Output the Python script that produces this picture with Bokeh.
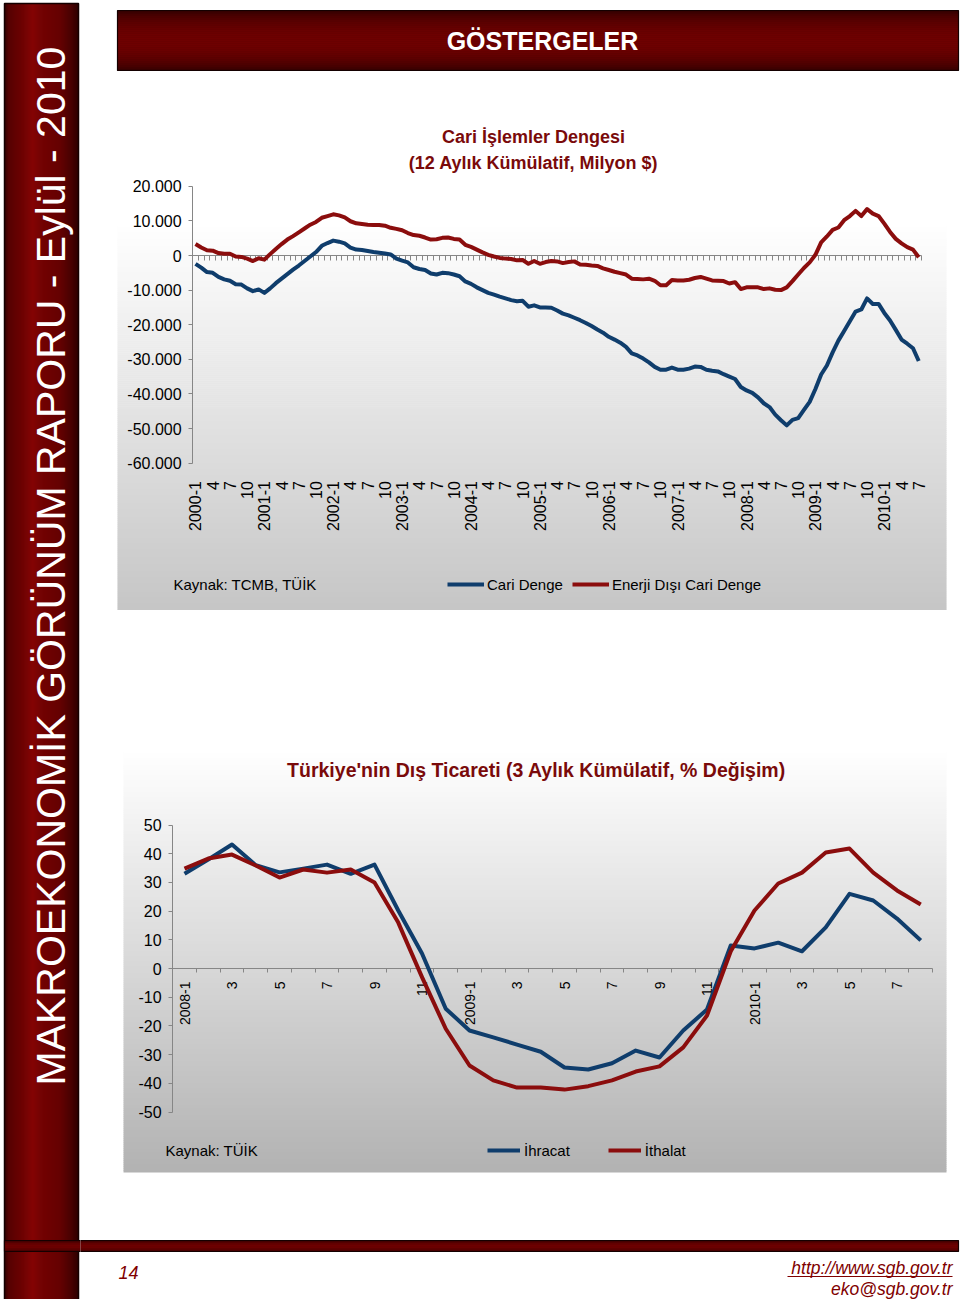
import numpy as np
from math import pi
from bokeh.plotting import figure
from bokeh.layouts import row, column
from bokeh.models import Range1d, LinearAxis, FixedTicker, Legend, LegendItem, ColumnDataSource
from bokeh.core.properties import value
from bokeh.embed import file_html
from bokeh.resources import INLINE

# ---------------------------------------------------------------- data
YEARS_1 = [2000, 2001, 2002, 2003, 2004, 2005, 2006, 2007, 2008, 2009, 2010]
X1_CATEGORIES = [f"{y}-{m}" for y in YEARS_1 for m in range(1, 13) if not (y == 2010 and m > 7)]
X1_TICK_LABELS = [c if c.endswith("-1") else c.split("-")[1] for c in X1_CATEGORIES[::3]]

# 12-month cumulative current account balance, million $
CARI_DENGE = [
    -2400, -3500, -4800, -5000, -6200, -6900, -7300, -8300, -8400, -9500, -10300, -9800,
    -10800, -9500, -8000, -6700, -5400, -4100, -2900, -1600, -300, 1000, 2800, 3600,
    4300, 4000, 3500, 2300, 1700, 1600, 1300, 1000, 800, 600, 300, -900,
    -1500, -2000, -3400, -3900, -4200, -5200, -5500, -5000, -5100, -5500, -6000, -7500,
    -8200, -9200, -10000, -10800, -11300, -11900, -12400, -12900, -13200, -13100, -14800, -14400,
    -15000, -15000, -15100, -15900, -16800, -17300, -18000, -18700, -19500, -20400, -21400, -22300,
    -23500, -24300, -25200, -26400, -28300, -28900, -29800, -30900, -32200, -33000, -33000, -32400,
    -33000, -33000, -32700, -32100, -32200, -33000, -33300, -33500, -34300, -35000, -35700, -38000,
    -39000, -39700, -41000, -42700, -43800, -46000, -47600, -49100, -47500, -47000, -44600, -42300,
    -38600, -34400, -31800, -28000, -24600, -21800, -19000, -16200, -15600, -12400, -14000, -14000,
    -16600, -18800, -21500, -24300, -25500, -26800, -30500,
]
ENERJI_DISI_CARI_DENGE = [
    3300, 2300, 1500, 1400, 700, 500, 500, -300, -400, -900, -1600, -800,
    -1200, 400, 1900, 3300, 4600, 5600, 6700, 7800, 8900, 9700, 10900, 11400,
    11900, 11600, 11000, 9900, 9300, 9100, 8900, 8800, 8800, 8600, 8000, 7700,
    7300, 6500, 5900, 5700, 5200, 4600, 4700, 5100, 5200, 4800, 4600, 3100,
    2500, 1700, 900, 200, -300, -700, -900, -1000, -1400, -1300, -2400, -1600,
    -2400, -1900, -1600, -1700, -2200, -1900, -1700, -2600, -2700, -2900, -3000, -3700,
    -4200, -4700, -5100, -5500, -6700, -6800, -6900, -6700, -7300, -8600, -8600, -7100,
    -7200, -7200, -7000, -6500, -6200, -6700, -7200, -7300, -7400, -8100, -7700, -9700,
    -9200, -9200, -9200, -9700, -9500, -9900, -10000, -9200, -7400, -5500, -3600, -2000,
    200, 3800, 5500, 7400, 8100, 10200, 11400, 12900, 11400, 13400, 12100, 11400,
    9200, 6800, 4800, 3500, 2400, 1700, -500,
]
Y1_TICKS = [-60000, -50000, -40000, -30000, -20000, -10000, 0, 10000, 20000]
Y1_TICK_LABELS = ["-60.000", "-50.000", "-40.000", "-30.000", "-20.000", "-10.000", "0", "10.000", "20.000"]

X2_CATEGORIES = [f"{y}-{m}" for y in (2008, 2009, 2010) for m in range(1, 13)][:32]
X2_TICK_LABELS = [c if c.endswith("-1") else c.split("-")[1] for c in X2_CATEGORIES[::2]]
# 3-month cumulative, % change
IHRACAT = [33.0, 38.0, 43.2, 36.0, 33.5, 34.8, 36.2, 33.0, 36.2, 20.2, 5.2, -14.0,
           -21.6, -24.0, -26.5, -29.0, -34.5, -35.2, -33.0, -28.6, -31.0, -21.6, -14.3, 8.0,
           7.0, 9.0, 6.0, 14.3, 26.0, 23.7, 17.4, 9.8]
ITHALAT = [34.8, 38.3, 39.7, 35.9, 31.7, 34.5, 33.4, 34.5, 30.0, 16.0, -3.0, -21.0,
           -33.8, -39.0, -41.5, -41.5, -42.2, -41.0, -39.0, -35.9, -34.1, -27.5, -16.4, 6.0,
           20.2, 29.6, 33.4, 40.4, 41.8, 33.4, 27.2, 22.3]
Y2_TICKS = [-50, -40, -30, -20, -10, 0, 10, 20, 30, 40, 50]
Y2_TICK_LABELS = ["-50", "-40", "-30", "-20", "-10", "0", "10", "20", "30", "40", "50"]

# ---------------------------------------------------------------- style
FONT = "Liberation Sans"
BLUE = "#0f3d6c"
RED = "#8b0d0d"
TITLE_RED = "#7a0a0a"
AXIS_GRAY = "#868686"
PAGE_W, PAGE_H = 960, 1299
SIDE_W = 80
W = PAGE_W - SIDE_W


def hexcol(r, g, b):
    return "#%02x%02x%02x" % (int(round(r)), int(round(g)), int(round(b)))


def make_fig(w, h, xr, yr):
    p = figure(width=w, height=h, x_range=xr, y_range=yr, x_axis_type=None, y_axis_type=None,
               toolbar_location=None, output_backend="svg", min_border=0, title=None)
    p.outline_line_color = None
    p.background_fill_color = "white"
    p.border_fill_color = "white"
    return p


def vgradient(p, x0, x1, y0, y1, c_bot, c_top, step=2.0, **kw):
    n = max(1, int(round((y1 - y0) / step)))
    ys = np.linspace(y0, y1, n + 1)
    t = (np.arange(n) + 0.5) / n
    cols = [hexcol(*(np.array(c_bot) + (np.array(c_top) - np.array(c_bot)) * tt)) for tt in t]
    p.quad(left=x0, right=x1, bottom=ys[:-1], top=ys[1:] + 0.6, fill_color=cols,
           line_color=None, level="image", **kw)


def banner_rows(p, x0, x1, ybot, ytop, **kw):
    n = int(ytop - ybot)
    ys = np.arange(n) + ybot
    t = (np.arange(n) + 0.5) / n
    base = 30 + 95 * np.sin(np.pi * t) ** 0.6
    stripe = np.where(np.arange(n) % 2 == 0, 1.0, 0.84)
    r = base * stripe
    cols = [hexcol(v, v * 0.01, v * 0.01) for v in r]
    p.quad(left=[x0], right=[x1], bottom=[ybot], top=[ytop], fill_color="#5a0000",
           line_color=None, **kw)
    p.quad(left=x0, right=x1, bottom=ys, top=ys + 1.0, fill_color=cols, line_color=None, **kw)
    p.quad(left=[x0], right=[x1], bottom=[ybot], top=[ytop], fill_color=None,
           line_color="#140000", line_width=1.2, **kw)


# ---------------------------------------------------------------- sidebar
side = make_fig(SIDE_W, PAGE_H, Range1d(0, SIDE_W), Range1d(0, PAGE_H))
sx0, sx1 = 4, 78
cols_x = np.arange(sx0, sx1)
tt = (cols_x - sx0 + 0.5) / (sx1 - sx0)
st = [0.0, 0.06, 0.25, 0.38, 0.5, 0.75, 0.9, 1.0]
sr = [28, 80, 112, 140, 118, 100, 62, 25]
rr = np.interp(tt, st, sr)
side.quad(left=[sx0], right=[sx1], bottom=[0], top=[PAGE_H - 3], fill_color="#6a0000",
          line_color=None)
side.quad(left=cols_x, right=cols_x + 1.0, bottom=0, top=PAGE_H - 3,
          fill_color=[hexcol(v, v * 0.03, v * 0.03) for v in rr], line_color=None)
side.quad(left=[sx0], right=[sx1], bottom=[-2], top=[PAGE_H - 3], fill_color=None,
          line_color="#140000", line_width=1.5)
banner_rows(side, 4, SIDE_W + 1, PAGE_H - 1251, PAGE_H - 1240)
side.text(x=[50], y=[PAGE_H - 1085], text=["MAKROEKONOMİK GÖRÜNÜM RAPORU - Eylül - 2010"],
          angle=pi / 2, text_font=value(FONT), text_font_size="41px", text_color="white",
          text_align="left", text_baseline="alphabetic")

# ---------------------------------------------------------------- header
HH = 110
header = make_fig(W, HH, Range1d(0, W), Range1d(0, HH))
banner_rows(header, 117 - SIDE_W, 958 - SIDE_W, HH - 70, HH - 10)
header.text(x=[542 - SIDE_W], y=[HH - 40], text=["GÖSTERGELER"], text_font=value(FONT),
            text_font_style="bold", text_font_size="25px", text_color="white",
            text_align="center", text_baseline="middle")

# ---------------------------------------------------------------- chart 1
H1 = 500
c1_x0, c1_dx = 195 - SIDE_W, 5.74
c1_y0, c1_k = 255 - 110, 34.6 / 10000
c1 = make_fig(W, H1, Range1d(-c1_x0 / c1_dx, (W - c1_x0) / c1_dx),
              Range1d((c1_y0 - H1) / c1_k, c1_y0 / c1_k))
c1.extra_x_ranges = {"px": Range1d(0, W)}
c1.extra_y_ranges = {"px": Range1d(0, H1)}
vgradient(c1, 117 - SIDE_W, 946 - SIDE_W, H1 - 605, H1 - 112, (182, 182, 182), (255, 255, 255),
          x_range_name="px", y_range_name="px")

src1 = ColumnDataSource(dict(x=list(range(len(X1_CATEGORIES))), cari=CARI_DENGE,
                             enerji=ENERJI_DISI_CARI_DENGE, cat=X1_CATEGORIES))
r_cari = c1.line("x", "cari", source=src1, line_color=BLUE, line_width=4, line_join="round")
r_enerji = c1.line("x", "enerji", source=src1, line_color=RED, line_width=4, line_join="round")

n1 = len(X1_CATEGORIES)
y1ax = LinearAxis(fixed_location=-0.5, ticker=FixedTicker(ticks=Y1_TICKS),
                  major_label_overrides=dict(zip(Y1_TICKS, Y1_TICK_LABELS)),
                  bounds=(Y1_TICKS[0], Y1_TICKS[-1]), axis_line_color=AXIS_GRAY,
                  major_tick_line_color=AXIS_GRAY, major_tick_out=4, major_tick_in=0,
                  minor_tick_line_color=None, major_label_text_font=FONT,
                  major_label_text_font_size="16px", major_label_standoff=7,
                  major_label_text_color="black", level="underlay")
c1.add_layout(y1ax, "left")
x1zero = LinearAxis(fixed_location=0, ticker=FixedTicker(ticks=[i - 0.5 for i in range(n1 + 1)]),
                    major_label_overrides={i - 0.5: "" for i in range(n1 + 1)},
                    bounds=(-0.5, n1 - 0.5), axis_line_color=AXIS_GRAY,
                    major_tick_line_color=AXIS_GRAY, major_tick_out=5, major_tick_in=0,
                    minor_tick_line_color=None, major_label_text_font_size="1px", level="underlay")
c1.add_layout(x1zero, "below")
x1lab_ticks = list(range(0, n1, 3))
x1lab = LinearAxis(fixed_location=Y1_TICKS[0], ticker=FixedTicker(ticks=x1lab_ticks),
                   major_label_overrides=dict(zip(x1lab_ticks, X1_TICK_LABELS)),
                   axis_line_color=None, major_tick_line_color=None, minor_tick_line_color=None,
                   major_label_orientation=pi / 2, major_label_standoff=12,
                   major_label_text_font=FONT, major_label_text_font_size="16px",
                   major_label_text_color="black")
c1.add_layout(x1lab, "below")

c1.text(x=[533 - SIDE_W] * 2, y=[H1 - 26, H1 - 52],
        text=["Cari İşlemler Dengesi", "(12 Aylık Kümülatif, Milyon $)"],
        text_font=value(FONT), text_font_style="bold", text_font_size="18px",
        text_color=TITLE_RED, text_align="center", text_baseline="middle",
        x_range_name="px", y_range_name="px")
c1.text(x=[173 - SIDE_W], y=[H1 - 474], text=["Kaynak: TCMB, TÜİK"], text_font=value(FONT),
        text_font_size="15px", text_color="black", text_align="left", text_baseline="middle",
        x_range_name="px", y_range_name="px")
leg1 = Legend(items=[LegendItem(label="Cari Denge", renderers=[r_cari]),
                     LegendItem(label="Enerji Dışı Cari Denge", renderers=[r_enerji])],
              location=(447 - SIDE_W, 16), orientation="horizontal", glyph_width=37,
              glyph_height=20, label_standoff=3, spacing=9, padding=0, margin=0,
              background_fill_alpha=0, border_line_color=None, label_text_font=FONT,
              label_text_font_size="15px", label_text_color="black")
c1.add_layout(leg1)

# ---------------------------------------------------------------- chart 2
H2 = 570
c2_x0, c2_dx = 184 - SIDE_W, 23.75
c2_y0, c2_k = 968 - 610, 2.87
c2 = make_fig(W, H2, Range1d(-c2_x0 / c2_dx, (W - c2_x0) / c2_dx),
              Range1d((c2_y0 - H2) / c2_k, c2_y0 / c2_k))
c2.extra_x_ranges = {"px": Range1d(0, W)}
c2.extra_y_ranges = {"px": Range1d(0, H2)}
vgradient(c2, 123 - SIDE_W, 946 - SIDE_W, H2 - 1172 + 610, H2 - 750 + 610, (178, 178, 178),
          (255, 255, 255), x_range_name="px", y_range_name="px")

n2 = len(X2_CATEGORIES)
src2 = ColumnDataSource(dict(x=list(range(n2)), ihracat=IHRACAT, ithalat=ITHALAT, cat=X2_CATEGORIES))
r_ihr = c2.line("x", "ihracat", source=src2, line_color=BLUE, line_width=4, line_join="round")
r_ith = c2.line("x", "ithalat", source=src2, line_color=RED, line_width=4, line_join="round")

y2ax = LinearAxis(fixed_location=-0.5, ticker=FixedTicker(ticks=Y2_TICKS),
                  major_label_overrides=dict(zip(Y2_TICKS, Y2_TICK_LABELS)),
                  bounds=(Y2_TICKS[0], Y2_TICKS[-1]), axis_line_color=AXIS_GRAY,
                  major_tick_line_color=AXIS_GRAY, major_tick_out=4, major_tick_in=0,
                  minor_tick_line_color=None, major_label_text_font=FONT,
                  major_label_text_font_size="16px", major_label_standoff=7,
                  major_label_text_color="black", level="underlay")
c2.add_layout(y2ax, "left")
x2zero = LinearAxis(fixed_location=0, ticker=FixedTicker(ticks=[i - 0.5 for i in range(n2 + 1)]),
                    major_label_overrides={i - 0.5: "" for i in range(n2 + 1)},
                    bounds=(-0.5, n2 - 0.5), axis_line_color=AXIS_GRAY,
                    major_tick_line_color=AXIS_GRAY, major_tick_out=4, major_tick_in=0,
                    minor_tick_line_color=None, major_label_text_font_size="1px", level="underlay")
c2.add_layout(x2zero, "below")
x2lab_ticks = list(range(0, n2, 2))
x2lab = LinearAxis(fixed_location=0, ticker=FixedTicker(ticks=x2lab_ticks),
                   major_label_overrides=dict(zip(x2lab_ticks, X2_TICK_LABELS)),
                   axis_line_color=None, major_tick_line_color=None, minor_tick_line_color=None,
                   major_label_orientation=pi / 2, major_label_standoff=7,
                   major_label_text_font=FONT, major_label_text_font_size="14px",
                   major_label_text_color="black", level="underlay")
c2.add_layout(x2lab, "below")

c2.text(x=[536 - SIDE_W], y=[H2 - (769 - 610)],
        text=["Türkiye'nin Dış Ticareti (3 Aylık Kümülatif, % Değişim)"],
        text_font=value(FONT), text_font_style="bold", text_font_size="19.5px",
        text_color=TITLE_RED, text_align="center", text_baseline="middle",
        x_range_name="px", y_range_name="px")
c2.text(x=[165 - SIDE_W], y=[H2 - (1150 - 610)], text=["Kaynak: TÜİK"], text_font=value(FONT),
        text_font_size="15px", text_color="black", text_align="left", text_baseline="middle",
        x_range_name="px", y_range_name="px")
leg2 = Legend(items=[LegendItem(label="İhracat", renderers=[r_ihr]),
                     LegendItem(label="İthalat", renderers=[r_ith])],
              location=(487 - SIDE_W, 20), orientation="horizontal", glyph_width=33,
              glyph_height=20, label_standoff=4, spacing=38, padding=0, margin=0,
              background_fill_alpha=0, border_line_color=None, label_text_font=FONT,
              label_text_font_size="15px", label_text_color="black")
c2.add_layout(leg2)

# ---------------------------------------------------------------- footer
HF = PAGE_H - 110 - H1 - H2
footer = make_fig(W, HF, Range1d(0, W), Range1d(0, HF))
FT = 1299 - HF  # page y of footer top
banner_rows(footer, -1, 958 - SIDE_W, HF - (1251 - FT), HF - (1240 - FT))
footer.text(x=[118 - SIDE_W], y=[HF - (1272 - FT)], text=["14"], text_font=value(FONT),
            text_font_style="italic", text_font_size="18px", text_color="#800000",
            text_align="left", text_baseline="middle")
footer.text(x=[952 - SIDE_W] * 2, y=[HF - (1267 - FT), HF - (1288 - FT)],
            text=["http://www.sgb.gov.tr", "eko@sgb.gov.tr"], text_font=value(FONT),
            text_font_style="italic", text_font_size="17.5px", text_color="#800000",
            text_align="right", text_baseline="middle")
footer.segment(x0=[787 - SIDE_W], x1=[952 - SIDE_W], y0=[HF - (1276 - FT)], y1=[HF - (1276 - FT)],
               line_color="#800000", line_width=1)

layout = row(side, column(header, c1, c2, footer, spacing=0), spacing=0)
open("out.html", "w").write(file_html(layout, INLINE, title="Göstergeler"))
